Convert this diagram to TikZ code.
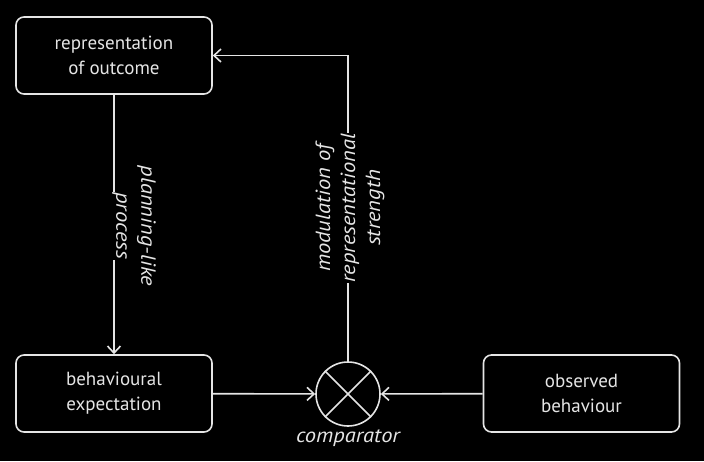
\documentclass[tikz,border=0pt]{standalone}
\usepackage{fontspec}
\setmainfont{PT Sans}
\newfontfamily\labfont{PT Sans}[FakeStretch=1.1]
\usepackage{tikz}
\usetikzlibrary{arrows.meta,positioning,calc}

\definecolor{ink}{gray}{0.9}
\newcommand{\knock}[1]{{\setlength{\fboxsep}{0.5pt}\colorbox{black}{#1}}}

\begin{document}
\begin{tikzpicture}[x=1pt,y=1pt,
  blockbox/.style={draw=ink,line width=1.6pt,rounded corners=8pt,minimum width=196pt,minimum height=77pt,
    align=center,text=ink,font=\fontsize{19}{25}\selectfont},
  sumnode/.style={circle,draw=ink,line width=1.6pt,minimum size=64pt,inner sep=0pt},
  flow/.style={draw=ink,line width=1.6pt,-{Straight Barb[length=7pt,width=13pt]}},
  sidelabel/.style={text=ink,align=center,inner sep=0pt,font=\labfont\fontsize{20.5}{25}\selectfont\itshape}]
  \fill[black] (0,0) rectangle (704,461);
  \useasboundingbox (0,0) rectangle (704,461);
  % boxes and comparator
  \node[blockbox] (outcome) at (114,405.5) {representation\\of outcome};
  \node[blockbox] (expect) at (114,67.5) {behavioural\\expectation};
  \node[blockbox] (observed) at (581.5,67.5) {observed\\behaviour};
  \node[sumnode] (comp) at (348,67) {};
  \draw[ink,line width=1.6pt] (comp.north east) -- (comp.south west) (comp.north west) -- (comp.south east);
  \node[sidelabel,below=3pt of comp] (complab) {comparator};
  % connectors
  \draw[flow] (outcome) -- (expect);
  \draw[flow] (expect) -- (comp);
  \draw[flow] (observed) -- (comp);
  \draw[flow] (comp.north) |- (outcome.east);
  % labels on the connectors
  \node[sidelabel,rotate=-90] (planlab) at (134,235) {\knock{planning-like}\\\knock{process}};
  \node[sidelabel,rotate=90] (modlab) at (350,253) {\knock{modulation of}\\\knock{representational}\\\knock{strength}};
\end{tikzpicture}
\end{document}
